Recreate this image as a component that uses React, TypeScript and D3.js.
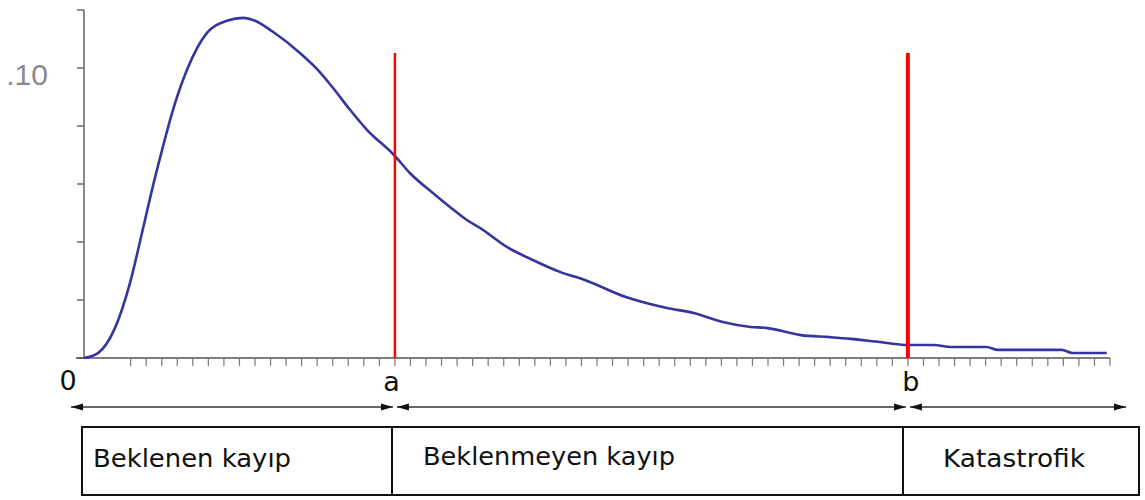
import React from "react";
import * as d3 from "d3";

// Loss distribution curve (x in loss units, y density)
const lossX = [0, 0.9, 1.99, 2.96, 3.73, 4.37, 5.02, 5.72, 6.62, 7.91, 9.2, 10.23, 11.0, 12.15, 13.89, 14.98, 16.01, 17.11, 18.2, 19.94, 20.96, 22.44, 23.54, 24.63, 25.66, 27.2, 28.87, 30.61, 32.22, 34.86, 37.43, 39.23, 41.09, 42.89, 43.86, 46.11, 47.97, 49.32, 51.19, 52.99, 54.66, 55.76, 58.07, 58.78, 62.89, 63.6, 65.79];
const density = [0, 0.0017, 0.0103, 0.0259, 0.0431, 0.0579, 0.0717, 0.0855, 0.0993, 0.1121, 0.1163, 0.1173, 0.1163, 0.1125, 0.1052, 0.0997, 0.0932, 0.0856, 0.0787, 0.07, 0.0638, 0.0569, 0.0521, 0.0476, 0.0442, 0.0383, 0.0338, 0.0297, 0.0269, 0.021, 0.0173, 0.0155, 0.0124, 0.0107, 0.0104, 0.0079, 0.0072, 0.0066, 0.0055, 0.0045, 0.0045, 0.0038, 0.0038, 0.0028, 0.0028, 0.0017, 0.0017];

const yTicks = [0, 0.02, 0.04, 0.06, 0.08, 0.1, 0.12];
const yTickLabels = ["", "", "", "", "", ".10", ""];
const xMinorTicks = d3.range(3, 67);
const thresholds = [20, 53];
const thresholdLabels = ["a", "b"];
const regions = ["Beklenen kayıp", "Beklenmeyen kayıp", "Katastrofik"];
const xMax = 66;

export default function App() {
  const W = 1145, H = 500;
  const x = d3.scaleLinear().domain([0, xMax]).range([84, 1110]);
  const y = d3.scaleLinear().domain([0, 0.12]).range([358, 10]);
  const pts = lossX.map((v, i) => [v, density[i]] as [number, number]);
  const line = d3.line<[number, number]>().x(d => x(d[0])).y(d => y(d[1])).curve(d3.curveMonotoneX);

  const arrowY = 407;
  const boxTop = 427, boxBot = 495, boxL = 82, boxR = 1139;
  const arrowSegs = [
    [71, x(thresholds[0]) - 2],
    [x(thresholds[0]) + 2, x(thresholds[1]) - 2],
    [x(thresholds[1]) + 2, 1126],
  ];
  const dividers = [392, 903];
  const regionTextX = [93, 423, 943];
  const regionTextY = [467, 465, 467];
  const regionTextLen = [198, 252, 142];
  const labelDx = [-3.5, 3];
  const font = "'DejaVu Sans', Verdana, sans-serif";

  return (
    <svg width={W} height={H} style={{ position: "absolute", left: 0, top: 0, background: "#fff" }}>
      <defs>
        <marker id="ah" viewBox="0 0 12 8" refX="12" refY="4" markerWidth="12" markerHeight="8" markerUnits="userSpaceOnUse" orient="auto-start-reverse">
          <path d="M0,0.5 L12,4 L0,7.5 Z" fill="#111" />
        </marker>
      </defs>
      {/* y axis */}
      <line x1={x(0)} x2={x(0)} y1={y(0.12)} y2={y(0)} stroke="#8a8a8a" strokeWidth={2} />
      {yTicks.map((t, i) => (
        <g key={i}>
          <line x1={x(0) - 7} x2={x(0)} y1={y(t)} y2={y(t)} stroke="#6a6a6a" strokeWidth={1.5} />
          {yTickLabels[i] && (
            <text x={48} y={85} textAnchor="end" fontFamily="'Liberation Sans', Arial, sans-serif" fontSize={30} fill="#8a8a8a">
              {yTickLabels[i]}
            </text>
          )}
        </g>
      ))}
      {/* x axis */}
      <line x1={x(0) - 8} x2={x(xMax)} y1={y(0)} y2={y(0)} stroke="#555" strokeWidth={1.5} />
      {xMinorTicks.map(t => (
        <line key={t} x1={x(t)} x2={x(t)} y1={y(0)} y2={y(0) + 8} stroke="#777" strokeWidth={1.2} />
      ))}
      <text x={68} y={390} textAnchor="middle" fontFamily={font} fontSize={27} fill="#111">0</text>
      {thresholds.map((t, i) => (
        <text key={i} x={x(t) + labelDx[i]} y={391} textAnchor="middle" fontFamily={font} fontSize={27} fill="#111">{thresholdLabels[i]}</text>
      ))}
      {/* curve */}
      <path d={line(pts) || ""} fill="none" stroke="#3535a0" strokeWidth={2.6} />
      {/* thresholds */}
      {thresholds.map((t, i) => (
        <line key={i} x1={x(t)} x2={x(t)} y1={53} y2={y(0)} stroke="#ff0000" strokeWidth={i === 0 ? 2.5 : 4} />
      ))}
      {/* arrows */}
      {arrowSegs.map((s, i) => (
        <line key={i} x1={s[0]} x2={s[1]} y1={arrowY} y2={arrowY} stroke="#333" strokeWidth={1.6}
          markerStart="url(#ah)" markerEnd="url(#ah)" />
      ))}
      {/* region boxes */}
      <rect x={boxL} y={boxTop} width={boxR - boxL} height={boxBot - boxTop} fill="none" stroke="#111" strokeWidth={2} />
      {dividers.map((d, i) => (
        <line key={i} x1={d} x2={d} y1={boxTop} y2={boxBot} stroke="#111" strokeWidth={2} />
      ))}
      {regions.map((r, i) => (
        <text key={i} x={regionTextX[i]} y={regionTextY[i]} fontFamily={font} fontSize={25} fill="#111"
          textLength={regionTextLen[i]} lengthAdjust="spacingAndGlyphs">{r}</text>
      ))}
    </svg>
  );
}
